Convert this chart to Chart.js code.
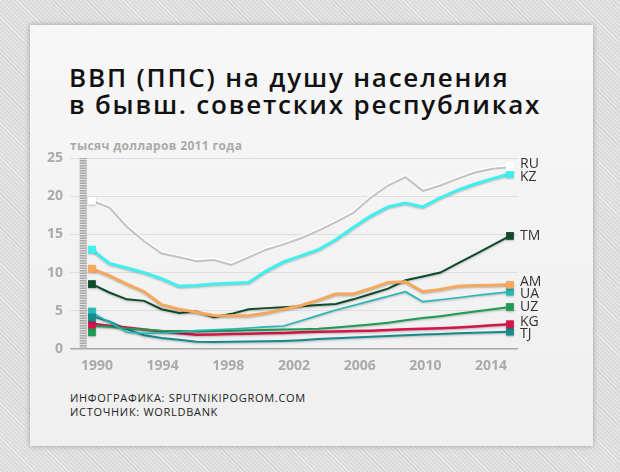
<!DOCTYPE html>
<html lang="ru">
<head>
<meta charset="utf-8">
<title>ВВП (ППС) на душу населения</title>
<script src="https://cdn.jsdelivr.net/npm/chart.js@4.4.1/dist/chart.umd.min.js"></script>
<style>
  html, body { margin: 0; padding: 0; }
  body {
    width: 620px; height: 472px; overflow: hidden; position: relative;
    font-family: "Open Sans", sans-serif;
    background: repeating-linear-gradient(45deg, #e6e6e6 0 1.5px, #d8d8d8 1.5px 3px);
  }
  .card {
    position: absolute; left: 30px; top: 25px; width: 563px; height: 421px;
    background: linear-gradient(#f7f7f7, #efefef);
    box-shadow: 0 0 5px rgba(0,0,0,0.3);
  }
  .title {
    position: absolute; left: 69px; top: 64px;
    font-size: 26px; line-height: 27px; font-weight: 600; color: #111;
    letter-spacing: 1.8px; white-space: nowrap;
  }
  .subtitle {
    position: absolute; left: 70px; top: 139px;
    font-size: 12px; line-height: 14px; font-weight: 700; color: #aaa;
    letter-spacing: 0.35px;
  }
  .footer {
    position: absolute; left: 70px; top: 391px;
    font-size: 11px; line-height: 14px; color: #222;
    letter-spacing: 0.7px;
  }
  #chart { position: absolute; left: 30px; top: 140px; }
</style>
</head>
<body>
<div class="card"></div>
<div class="title">ВВП (ППС) на душу населения<br>в бывш. советских республиках</div>
<div class="subtitle">тысяч долларов 2011 года</div>
<div class="footer">ИНФОГРАФИКА: SPUTNIKIPOGROM.COM<br>ИСТОЧНИК: WORLDBANK</div>
<canvas id="chart" width="560" height="250"></canvas>

<script>
// Years on the x axis
const YEARS = [1990, 1991, 1992, 1993, 1994, 1995, 1996, 1997, 1998, 1999,
               2000, 2001, 2002, 2003, 2004, 2005, 2006, 2007, 2008, 2009,
               2010, 2011, 2012, 2013, 2014];
const TICK_YEARS = [1990, 1994, 1998, 2002, 2006, 2010, 2014];
const Y_TICKS = [0, 5, 10, 15, 20, 25];

// GDP per capita, PPP, thousand 2011 dollars
const RU = [19.4, 18.5, 16.0, 14.1, 12.5, 12.0, 11.5, 11.65, 11.0, 12.0,
            13.0, 13.7, 14.5, 15.5, 16.6, 17.8, 19.8, 21.4, 22.5, 20.7,
            21.4, 22.3, 23.1, 23.6, 23.8];
const KZ = [13.0, 11.2, 10.6, 10.0, 9.2, 8.2, 8.3, 8.5, 8.6, 8.7,
            10.2, 11.4, 12.2, 13.0, 14.3, 15.9, 17.4, 18.6, 19.1, 18.6,
            19.8, 20.8, 21.6, 22.3, 22.9];
const AM = [10.5, 9.6, 8.5, 7.5, 5.8, 5.2, 4.8, 4.4, 4.35, 4.35,
            4.7, 5.2, 5.7, 6.4, 7.2, 7.2, 7.9, 8.7, 8.8, 7.5,
            7.8, 8.2, 8.3, 8.35, 8.4];
const TM = [8.5, 7.4, 6.5, 6.3, 5.2, 4.7, 4.9, 4.15, 4.6, 5.2,
            5.35, 5.45, 5.6, 5.75, 5.9, 6.5, 7.2, 7.9, 9.0, 9.5,
            10.0, 11.2, 12.4, 13.6, 14.8];
const UA = [4.8, 3.5, 2.2, 2.05, 2.1, 2.2, 2.4, 2.5, 2.6, 2.75,
            2.9, 3.0, 3.7, 4.4, 5.1, 5.7, 6.3, 6.9, 7.5, 6.2,
            6.45, 6.7, 7.0, 7.25, 7.5];
const UZ = [3.0, 2.9, 2.7, 2.55, 2.4, 2.35, 2.3, 2.35, 2.4, 2.45,
            2.5, 2.55, 2.6, 2.65, 2.8, 3.0, 3.2, 3.45, 3.75, 4.05,
            4.3, 4.6, 4.9, 5.2, 5.5];
const KG = [3.3, 3.05, 2.8, 2.55, 2.3, 2.05, 1.85, 1.9, 1.95, 2.0,
            2.05, 2.1, 2.2, 2.25, 2.3, 2.35, 2.4, 2.5, 2.6, 2.65,
            2.7, 2.8, 2.95, 3.1, 3.25];
const TJ = [4.3, 3.6, 2.6, 1.8, 1.45, 1.2, 0.95, 0.9, 0.95, 0.97,
            1.0, 1.05, 1.15, 1.3, 1.4, 1.5, 1.6, 1.7, 1.8, 1.9,
            1.97, 2.05, 2.12, 2.2, 2.27];

// Country codes, colours and the squares drawn at the 1990 edge
const CODES = ['RU', 'KZ', 'AM', 'TM', 'UA', 'UZ', 'KG', 'TJ'];
const COLORS = ['#c2c2c2', '#3ef0f0', '#f6a95c', '#0f4a2b', '#26b8b8', '#1e9a55', '#d4154a', '#178a8c'];
const MARKER_COLORS = ['#ffffff', '#3ef0f0', '#f6a95c', '#0f4a2b', '#26b8b8', '#1e9a55', '#d4154a', '#178a8c'];
const START_MARKS = [19.4, 13.0, 10.5, 8.5, 4.9, 2.2, 3.2, 4.1];

(function() {
  'use strict';

  const SERIES = [RU, KZ, AM, TM, UA, UZ, KG, TJ];
  const WIDTHS = [2, 3, 3, 2, 1.6, 2, 2.5, 2];
  const LAST = YEARS.length - 1;

  /**
   * Gray ruler strip next to the y axis
   */
  const rulerPlugin = {
    id: 'ruler',
    beforeDatasetsDraw(chart) {
      const { ctx, scales } = chart;
      const top = scales.y.getPixelForValue(25);
      const bottom = scales.y.getPixelForValue(0);
      const x = scales.x.getPixelForValue(1989.3);
      ctx.save();
      ctx.fillStyle = '#a9a9a9';
      ctx.fillRect(x, top, 7, bottom - top);
      ctx.fillStyle = '#e2e2e2';
      for (let y = top + 1; y < bottom; y += 2.5) {
        ctx.fillRect(x, y, 7, 1);
      }
      ctx.restore();
    }
  };

  /**
   * Soft shadow under every line
   */
  const shadowPlugin = {
    id: 'lineShadow',
    beforeDatasetDraw(chart, args) {
      const ds = chart.data.datasets[args.index];
      const ctx = chart.ctx;
      ctx.save();
      if (ds.label === 'RU') {
        ctx.shadowColor = 'rgba(255,255,255,1)';
        ctx.shadowBlur = 0;
        ctx.shadowOffsetY = -1.5;
      } else {
        ctx.shadowColor = 'rgba(0,0,0,0.25)';
        ctx.shadowBlur = 2;
        ctx.shadowOffsetY = 1;
      }
    },
    afterDatasetDraw(chart) {
      chart.ctx.restore();
    }
  };

  /**
   * Country codes at the right end, pushed apart where they collide
   */
  const endLabelPlugin = {
    id: 'endLabels',
    afterDatasetsDraw(chart) {
      const { ctx, scales, chartArea } = chart;
      const items = CODES.map((code, i) => ({
        code: code,
        y: scales.y.getPixelForValue(SERIES[i][LAST])
      })).sort((a, b) => a.y - b.y);

      const gap = 12.5;
      for (let pass = 0; pass < 30; pass++) {
        for (let i = 1; i < items.length; i++) {
          const d = items[i].y - items[i - 1].y;
          if (d < gap) {
            const push = (gap - d) / 2;
            items[i - 1].y -= push;
            items[i].y += push;
          }
        }
      }

      ctx.save();
      ctx.font = '14px "Open Sans", sans-serif';
      ctx.fillStyle = '#333';
      ctx.textBaseline = 'middle';
      ctx.textAlign = 'left';
      items.forEach(it => ctx.fillText(it.code, chartArea.right + 2, it.y));
      ctx.restore();
    }
  };

  function buildDatasets() {
    const lines = SERIES.map((values, i) => ({
      label: CODES[i],
      data: YEARS.map((yr, j) => ({ x: yr, y: values[j] })),
      borderColor: COLORS[i],
      borderWidth: WIDTHS[i],
      tension: 0,
      pointStyle: 'rect',
      pointRadius: ctx => (ctx.dataIndex === LAST ? 5.5 : 0),
      pointBackgroundColor: MARKER_COLORS[i],
      pointBorderWidth: 0,
      order: 1
    }));

    const startMarks = {
      label: 'start',
      data: START_MARKS.map(v => ({ x: YEARS[0], y: v })),
      showLine: false,
      pointStyle: 'rect',
      pointRadius: 5.5,
      pointBorderWidth: 0,
      pointBackgroundColor: MARKER_COLORS,
      order: 0
    };

    return lines.concat([startMarks]);
  }

  function initializeChart() {
    const canvas = document.getElementById('chart');
    const tickFont = { family: '"Open Sans", sans-serif', size: 14, weight: '700' };

    new Chart(canvas, {
      type: 'line',
      data: { datasets: buildDatasets() },
      options: {
        responsive: false,
        animation: false,
        layout: { padding: { top: 18, right: 72, left: 0, bottom: 0 } },
        plugins: { legend: { display: false }, tooltip: { enabled: false } },
        scales: {
          x: {
            type: 'linear',
            display: false,
            min: 1988.74,
            max: 2014.46
          },
          xl: {
            type: 'linear',
            position: 'bottom',
            min: 1988.36,
            max: 2015.64,
            afterBuildTicks: axis => {
              axis.ticks = TICK_YEARS.map(v => ({ value: v }));
            },
            afterFit: axis => { axis.height = 41; },
            grid: { display: false, drawTicks: false },
            border: { display: false },
            ticks: {
              padding: 9,
              color: '#aaa',
              font: tickFont,
              maxRotation: 0,
              autoSkip: false,
              callback: v => String(v)
            }
          },
          y: {
            min: 0,
            max: 25,
            afterBuildTicks: axis => {
              axis.ticks = Y_TICKS.map(v => ({ value: v }));
            },
            afterFit: axis => { axis.width = 40; },
            border: { display: false },
            grid: {
              drawTicks: false,
              color: c => (c.tick && c.tick.value === 0 ? '#a8a8a8' : '#dedede'),
              lineWidth: c => (c.tick && c.tick.value === 0 ? 1.5 : 1)
            },
            ticks: { padding: 7, color: '#aaa', font: tickFont }
          }
        }
      },
      plugins: [rulerPlugin, shadowPlugin, endLabelPlugin]
    });

    console.log('chart ready');
  }

  if (document.readyState === 'loading') {
    document.addEventListener('DOMContentLoaded', initializeChart);
  } else {
    initializeChart();
  }
})();
</script>
</body>
</html>
